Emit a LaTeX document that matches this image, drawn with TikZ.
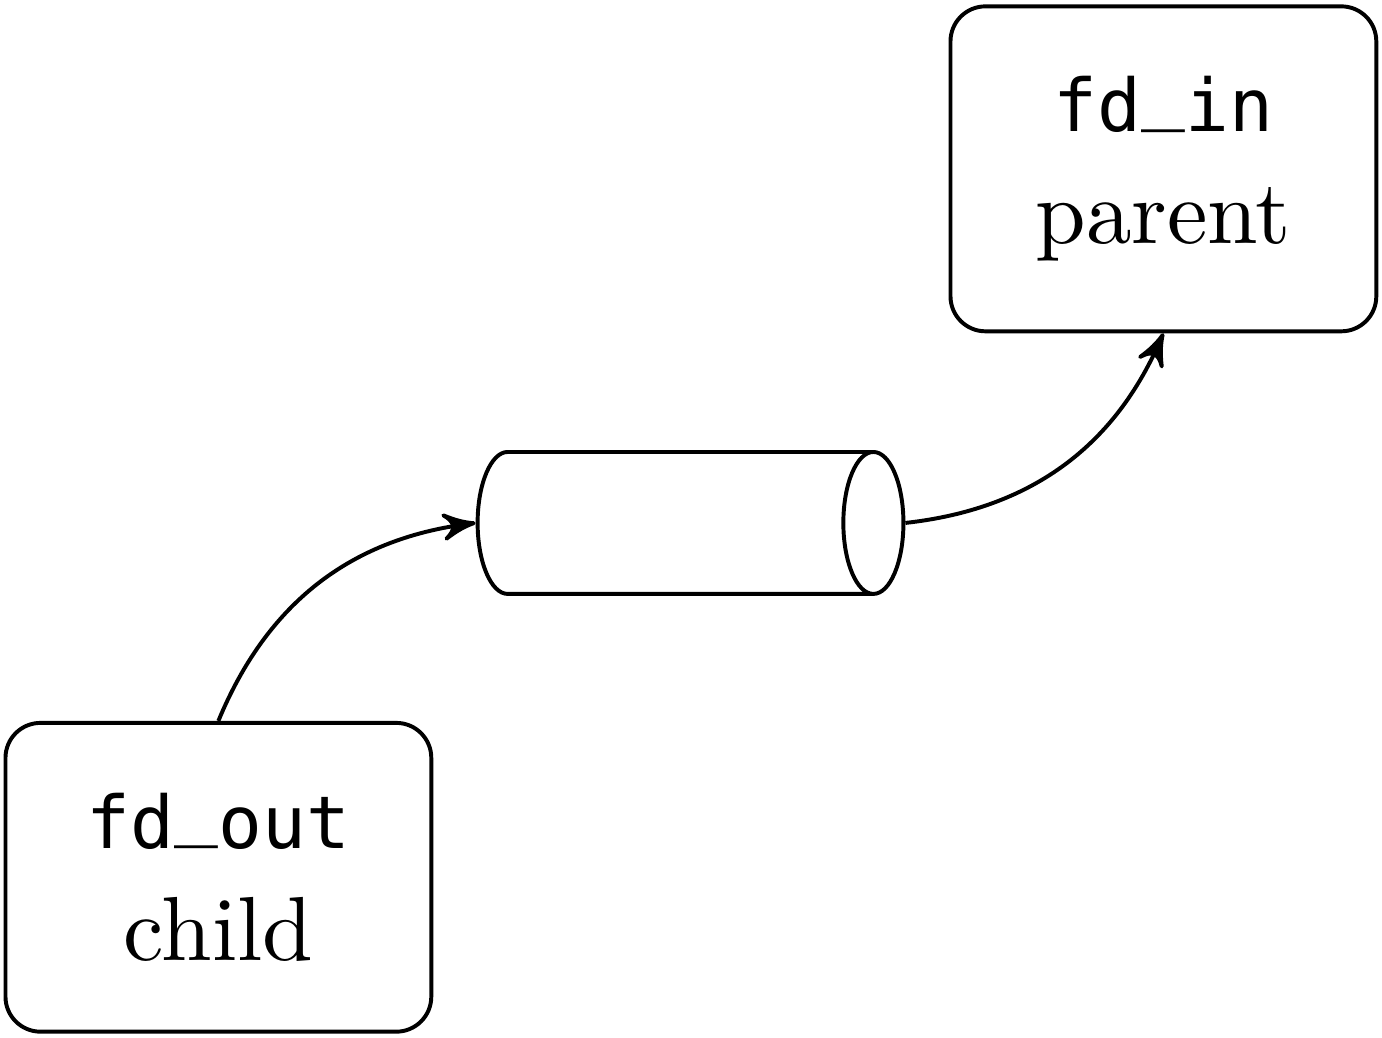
\documentclass[tikz,border=0pt]{standalone}
\usepackage{fontspec}
\setmonofont[Scale=0.8]{DejaVu Sans Mono}
\newcommand{\fdusc}{\raisebox{1.9pt}{\_}}
\usetikzlibrary{
    arrows,
    positioning,
    shapes.geometric
}
\tikzset{
    procbox/.style={draw, rounded corners, align=center, minimum width=1.71cm, font=\fontsize{10.4}{12.8}\selectfont},
    pipecyl/.style={draw, shape=cylinder, shape aspect=1.03, minimum width=0.57cm, minimum height=1.71cm}
}
\begin{document}
\begin{tikzpicture}[>=stealth', line width=0.45pt]
    \useasboundingbox (0,0) rectangle (5.55,4.168);
    \node[procbox, minimum height=1.24cm] (child) at (0.877,0.645) {\texttt{fd\fdusc out}\\child};
    \node[pipecyl] (pipe) at (2.66,2.068) {};
    \node[procbox, minimum height=1.305cm] (parent) at (4.672,3.49) {\texttt{fd\fdusc in}\\parent};
    \draw[->] (child.north) to[bend left=30] (pipe.west);
    \draw[->] (pipe.east) to[bend right=30] (parent.south);
\end{tikzpicture}
\end{document}
